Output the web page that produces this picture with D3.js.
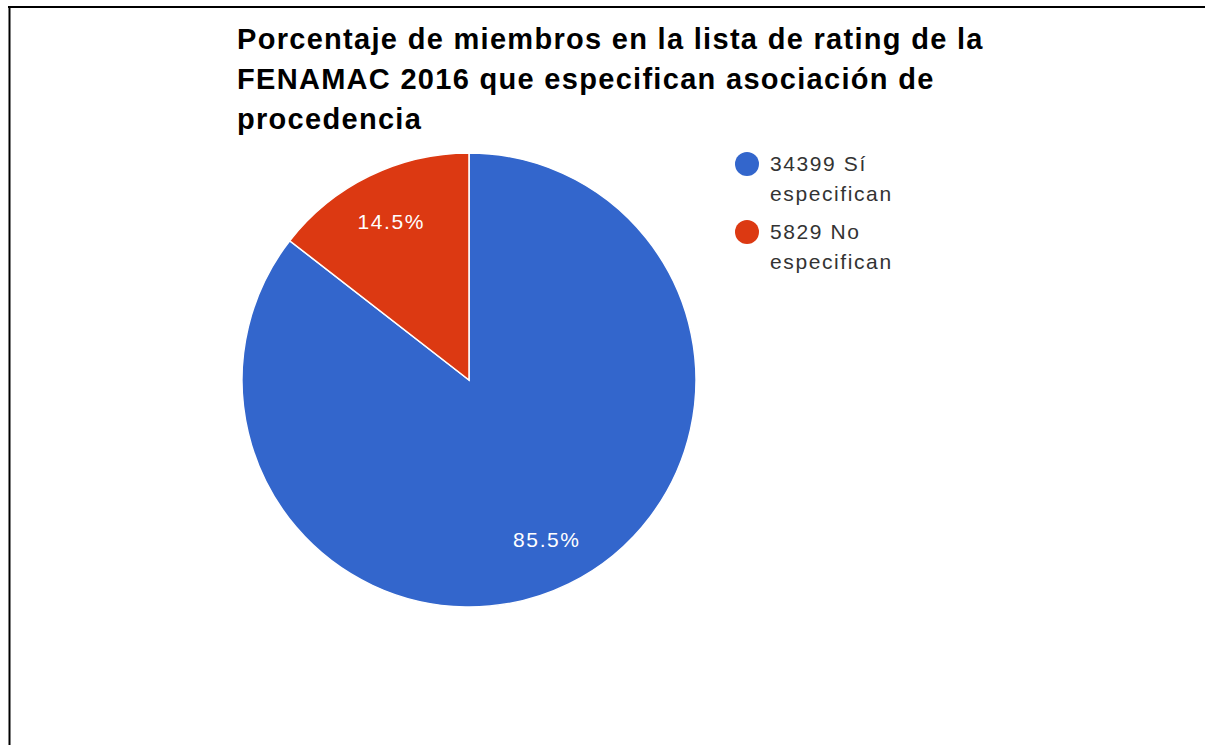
<!DOCTYPE html>
<html>
<head>
<meta charset="utf-8">
<script src="https://cdn.jsdelivr.net/npm/d3@7/dist/d3.min.js"></script>
<style>
  html, body { margin: 0; padding: 0; background: #fff; }
</style>
</head>
<body>
<div id="chart"></div>
<script>
// Data
var categories = ['Sí especifican', 'No especifican'];
var counts = [34399, 5829];
var legendLabels = ['34399 Sí', '5829 No'];
var legendSecondLine = ['especifican', 'especifican'];
var sliceColors = ['#3366CC', '#DC3912'];
var titleLines = [
    'Porcentaje de miembros en la lista de rating de la',
    'FENAMAC 2016 que especifican asociación de',
    'procedencia'
];

var width = 1205, height = 745;
var font = "'Liberation Sans', Arial, sans-serif";

var svg = d3.select('#chart')
    .append('svg')
    .attr('width', width)
    .attr('height', height);

// Frame lines (top and left only)
svg.append('line')
    .attr('x1', 8).attr('x2', width)
    .attr('y1', 7).attr('y2', 7)
    .attr('stroke', '#000').attr('stroke-width', 2);
svg.append('line')
    .attr('x1', 9.5).attr('x2', 9.5)
    .attr('y1', 6).attr('y2', height)
    .attr('stroke', '#000').attr('stroke-width', 2);

// Title
svg.append('g')
    .selectAll('text')
    .data(titleLines)
    .enter()
    .append('text')
    .attr('x', 237)
    .attr('y', function(d, i) { return 49 + i * 40; })
    .attr('font-family', font)
    .attr('font-weight', 'bold')
    .attr('font-size', '29px')
    .attr('letter-spacing', '1.3px')
    .attr('fill', '#000')
    .text(function(d) { return d; });

// Pie
var cx = 469, cy = 380, radius = 227;

var pie = d3.pie().sort(null).value(function(d) { return d; });
var arc = d3.arc().innerRadius(0).outerRadius(radius);
var labelArc = d3.arc().innerRadius(radius * 0.78).outerRadius(radius * 0.78);

var arcs = pie(counts);
var total = d3.sum(counts);

var g = svg.append('g')
    .attr('transform', 'translate(' + cx + ',' + cy + ')');

g.selectAll('path.slice')
    .data(arcs)
    .enter()
    .append('path')
    .attr('class', 'slice')
    .attr('d', arc)
    .attr('fill', function(d, i) { return sliceColors[i]; })
    .attr('stroke', '#fff')
    .attr('stroke-width', 1.5);

g.selectAll('text.pct')
    .data(arcs)
    .enter()
    .append('text')
    .attr('class', 'pct')
    .attr('transform', function(d) {
        var c = labelArc.centroid(d);
        return 'translate(' + c[0] + ',' + c[1] + ')';
    })
    .attr('text-anchor', 'middle')
    .attr('dy', '0.36em')
    .attr('font-family', font)
    .attr('font-size', '21px')
    .attr('letter-spacing', '1.6px')
    .attr('fill', '#fff')
    .text(function(d) {
        return d3.format('.1f')(d.data / total * 100) + '%';
    });

// Legend
var legend = svg.append('g')
    .attr('transform', 'translate(747, 164)');

categories.forEach(function(c, i) {
    var lg = legend.append('g')
        .attr('transform', 'translate(0,' + (i * 68) + ')');
    lg.append('circle')
        .attr('r', 12)
        .attr('fill', sliceColors[i]);
    lg.append('text')
        .attr('x', 23)
        .attr('y', 7)
        .attr('font-family', font)
        .attr('font-size', '21px')
        .attr('letter-spacing', '1.6px')
        .attr('fill', '#333')
        .text(legendLabels[i]);
    lg.append('text')
        .attr('x', 23)
        .attr('y', 37)
        .attr('font-family', font)
        .attr('font-size', '21px')
        .attr('letter-spacing', '1.6px')
        .attr('fill', '#333')
        .text(legendSecondLine[i]);
});
</script>
</body>
</html>
